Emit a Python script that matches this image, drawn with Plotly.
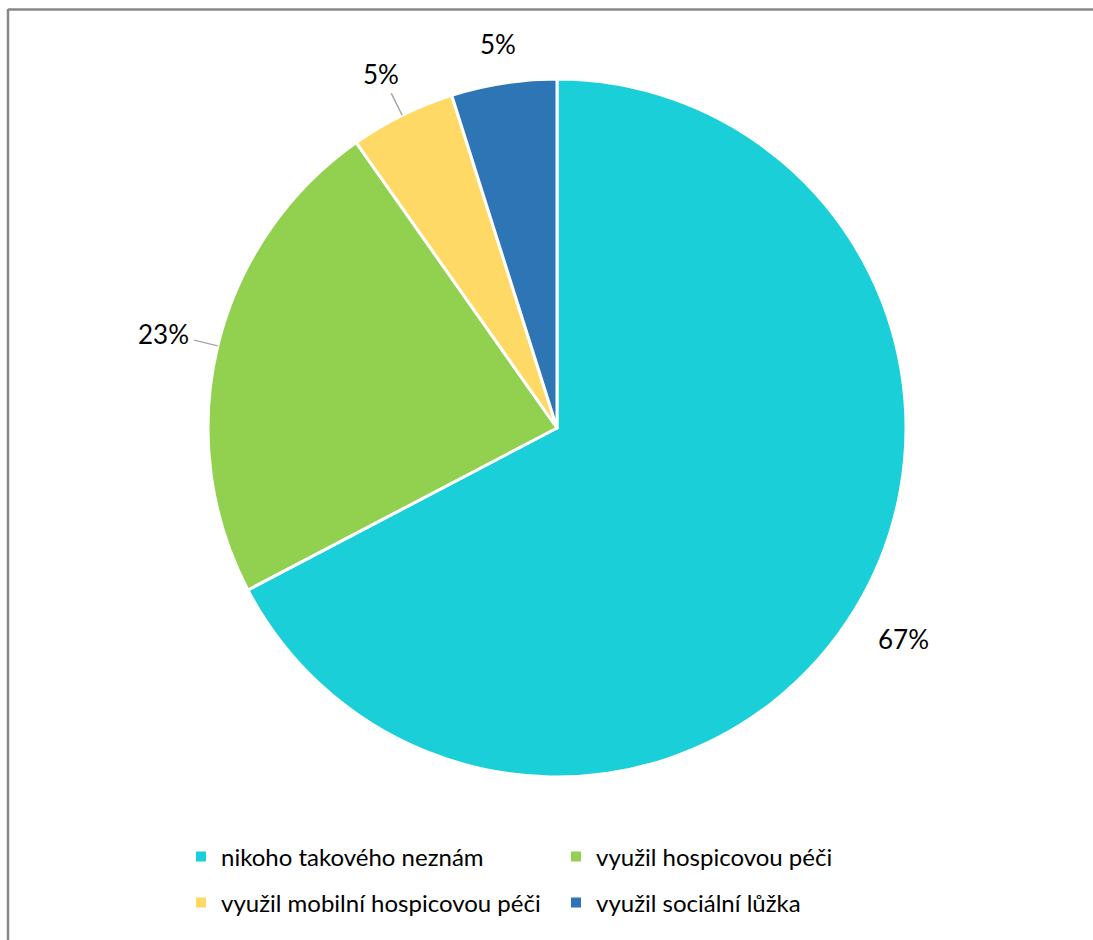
import math
import plotly.graph_objects as go

categories = ["nikoho takového neznám", "využil hospicovou péči",
              "využil mobilní hospicovou péči", "využil sociální lůžka"]
values = [138, 47, 10, 10]
colors = ["#1ACFD8", "#92D050", "#FFD966", "#2E75B6"]
leader = [False, True, True, False]
label_dist = [1.16, 1.16, 1.135, 1.115]  # label distance / radius

W, H = 1093, 940
CX, CY, R = 557, 428, 349  # pie centre / radius in px
FONT = "Lato, Liberation Sans, sans-serif"

fig = go.Figure()
fig.add_trace(go.Pie(
    labels=categories, values=values, sort=False, direction="clockwise",
    rotation=0, textinfo="none", hoverinfo="label+percent",
    marker=dict(colors=colors, line=dict(color="white", width=3)),
    domain=dict(x=[(CX - R) / W, (CX + R) / W], y=[1 - (CY + R) / H, 1 - (CY - R) / H]),
    showlegend=False,
))

# legend entries (two rows)
for i, (c, col) in enumerate(zip(categories, colors)):
    fig.add_trace(go.Scatter(
        x=[None], y=[None], mode="markers", name=c,
        marker=dict(symbol="square", size=10, color=col),
        legend="legend" if i < 2 else "legend2",
    ))

total = sum(values)
cum = 0
annotations = []
shapes = []
for v, lead, f in zip(values, leader, label_dist):
    mid = (cum + v / 2) / total * 2 * math.pi
    cum += v
    pct = f"{round(v / total * 100)}%"
    d = R * f
    lx = CX + d * math.sin(mid)
    ly = CY - d * math.cos(mid) + 1
    annotations.append(dict(x=lx / W, y=1 - ly / H, xref="paper", yref="paper",
                            text=pct, showarrow=False,
                            font=dict(family=FONT, size=26, color="#000000"),
                            xanchor="center", yanchor="middle"))
    if lead:
        x0 = CX + R * math.sin(mid); y0 = CY - R * math.cos(mid)
        x1 = CX + R * 1.07 * math.sin(mid); y1 = CY - R * 1.07 * math.cos(mid)
        shapes.append(dict(type="line", xref="paper", yref="paper",
                           x0=x0 / W, y0=1 - y0 / H, x1=x1 / W, y1=1 - y1 / H,
                           line=dict(color="#A6A6A6", width=1.5)))

# chart border (left and top edges visible)
shapes.append(dict(type="line", xref="paper", yref="paper", x0=8 / W, x1=8 / W,
                   y0=0, y1=1 - 9 / H, line=dict(color="#878787", width=2.5)))
shapes.append(dict(type="line", xref="paper", yref="paper", x0=8 / W, x1=1,
                   y0=1 - 9.5 / H, y1=1 - 9.5 / H, line=dict(color="#878787", width=2.5)))

leg = dict(orientation="h", xanchor="left", yanchor="middle",
           font=dict(family=FONT, size=24, color="#000000"),
           entrywidth=330, itemwidth=30, bgcolor="rgba(0,0,0,0)")
fig.update_layout(
    width=W, height=H, margin=dict(l=0, r=0, t=0, b=0),
    paper_bgcolor="white", plot_bgcolor="white",
    xaxis=dict(visible=False), yaxis=dict(visible=False),
    annotations=annotations, shapes=shapes,
    legend=dict(leg, x=181 / W, y=1 - 857 / H),
    legend2=dict(leg, x=181 / W, y=1 - 903 / H),
)
fig.write_html("out.html")
